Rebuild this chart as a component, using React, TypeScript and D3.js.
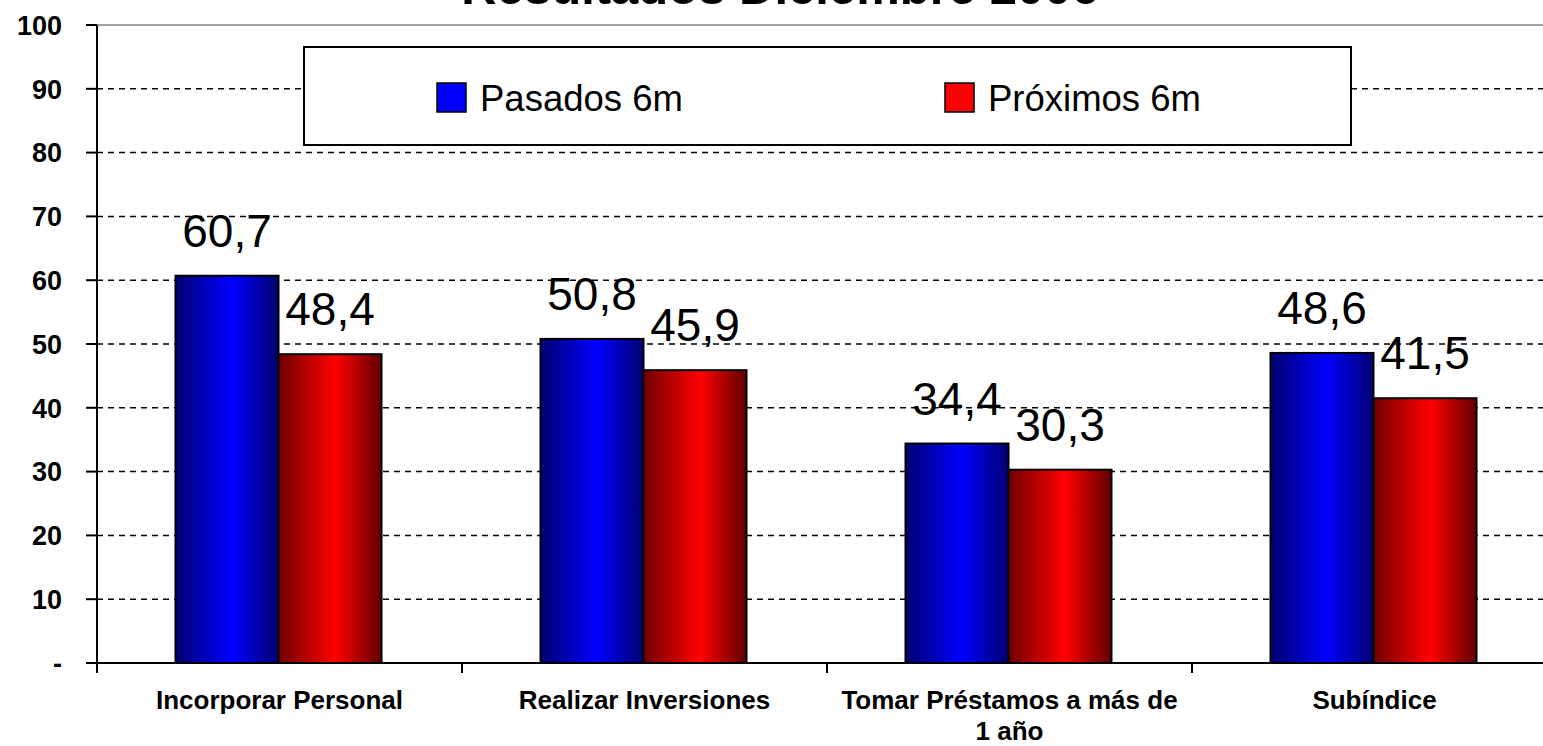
import React from "react";
import * as d3 from "d3";

const categories = ["Incorporar Personal", "Realizar Inversiones", "Tomar Préstamos a más de|1 año", "Subíndice"];
const series = ["Pasados 6m", "Próximos 6m"];
const pasados = [60.7, 50.8, 34.4, 48.6];
const proximos = [48.4, 45.9, 30.3, 41.5];
const yTicks = [0, 10, 20, 30, 40, 50, 60, 70, 80, 90, 100];
const title = "Resultados Diciembre 2006";

const W = 1543;
const H = 746;
const FONT = "'Liberation Sans', Arial, sans-serif";

export default function App() {
  const x0 = 97;
  const bandW = 365;
  const x = d3.scaleBand<string>().domain(categories).range([x0, x0 + bandW * categories.length]).paddingInner(0).paddingOuter(0);
  const xs = d3.scaleBand<string>().domain(series).range([0, 206]);
  const groupOffset = (bandW - 206) / 2 - 1;
  const y = d3.scaleLinear().domain([0, 100]).range([663, 25]);
  const values = [pasados, proximos];
  const fills = ["url(#gBlue)", "url(#gRed)"];
  const fmt = (v: number) => v.toFixed(1).replace(".", ",");

  return (
    <svg width={W} height={H} style={{ position: "absolute", left: 0, top: 0, background: "#fff" }}>
      <defs>
        <linearGradient id="gBlue" x1="0" x2="1" y1="0" y2="0">
          <stop offset="0" stopColor="#000070" />
          <stop offset="0.55" stopColor="#0000ff" />
          <stop offset="1" stopColor="#000070" />
        </linearGradient>
        <linearGradient id="gRed" x1="0" x2="1" y1="0" y2="0">
          <stop offset="0" stopColor="#700000" />
          <stop offset="0.55" stopColor="#ff0000" />
          <stop offset="1" stopColor="#600000" />
        </linearGradient>
      </defs>
      <rect x={0} y={0} width={W} height={H} fill="#fff" />
      <text x={780} y={4} textAnchor="middle" fontFamily={FONT} fontWeight="bold" fontSize={49} fill="#000">{title}</text>

      {/* gridlines */}
      {yTicks.filter((t) => t > 0 && t < 100).map((t) => (
        <line key={t} x1={x0} x2={W} y1={y(t)} y2={y(t)} stroke="#000" strokeWidth={1.5} strokeDasharray="6 5" />
      ))}
      <line x1={x0} x2={W} y1={y(100)} y2={y(100)} stroke="#a0a0a0" strokeWidth={2} />

      {/* y axis */}
      <line x1={x0} x2={x0} y1={y(100)} y2={y(0) + 10} stroke="#000" strokeWidth={2} />
      {yTicks.map((t) => (
        <g key={t}>
          <line x1={86} x2={x0} y1={y(t)} y2={y(t)} stroke="#000" strokeWidth={2} />
          <text x={62} y={y(t)} dy="0.36em" textAnchor="end" fontFamily={FONT} fontWeight="bold" fontSize={27} fill="#000">
            {t === 0 ? "-" : String(t)}
          </text>
        </g>
      ))}

      {/* bars */}
      {categories.map((c, i) => (
        <g key={c}>
          {series.map((s, j) => {
            const bx = (x(c) as number) + groupOffset + (xs(s) as number);
            const v = values[j][i];
            return (
              <g key={s}>
                <rect x={bx} y={y(v)} width={xs.bandwidth()} height={y(0) - y(v)} fill={fills[j]} stroke="#000" strokeWidth={2} />
                <text x={bx + xs.bandwidth() / 2} y={y(v) - 29} textAnchor="middle" fontFamily={FONT} fontSize={46} fill="#000">{fmt(v)}</text>
              </g>
            );
          })}
        </g>
      ))}

      {/* x axis */}
      <line x1={86} x2={W} y1={y(0)} y2={y(0)} stroke="#000" strokeWidth={2} />
      {categories.map((c) => (
        <line key={c} x1={x(c) as number} x2={x(c) as number} y1={y(0)} y2={y(0) + 10} stroke="#000" strokeWidth={2} />
      ))}
      {categories.map((c) => {
        const lines = c.split("|");
        const cx = (x(c) as number) + bandW / 2;
        return (
          <text key={c} x={cx} y={709} textAnchor="middle" fontFamily={FONT} fontWeight="bold" fontSize={26} fill="#000">
            {lines.map((l, k) => (
              <tspan key={k} x={cx} dy={k === 0 ? 0 : 31}>{l}</tspan>
            ))}
          </text>
        );
      })}

      {/* legend */}
      <rect x={304} y={47} width={1047} height={98} fill="#fff" stroke="#000" strokeWidth={2} />
      <rect x={437} y={83} width={29} height={29} fill="#0000ff" stroke="#000" strokeWidth={1.5} />
      <text x={480} y={111} fontFamily={FONT} fontSize={36.5} fill="#000">{series[0]}</text>
      <rect x={945} y={83} width={29} height={29} fill="#ff0000" stroke="#000" strokeWidth={1.5} />
      <text x={988} y={111} fontFamily={FONT} fontSize={36.5} fill="#000">{series[1]}</text>
    </svg>
  );
}
